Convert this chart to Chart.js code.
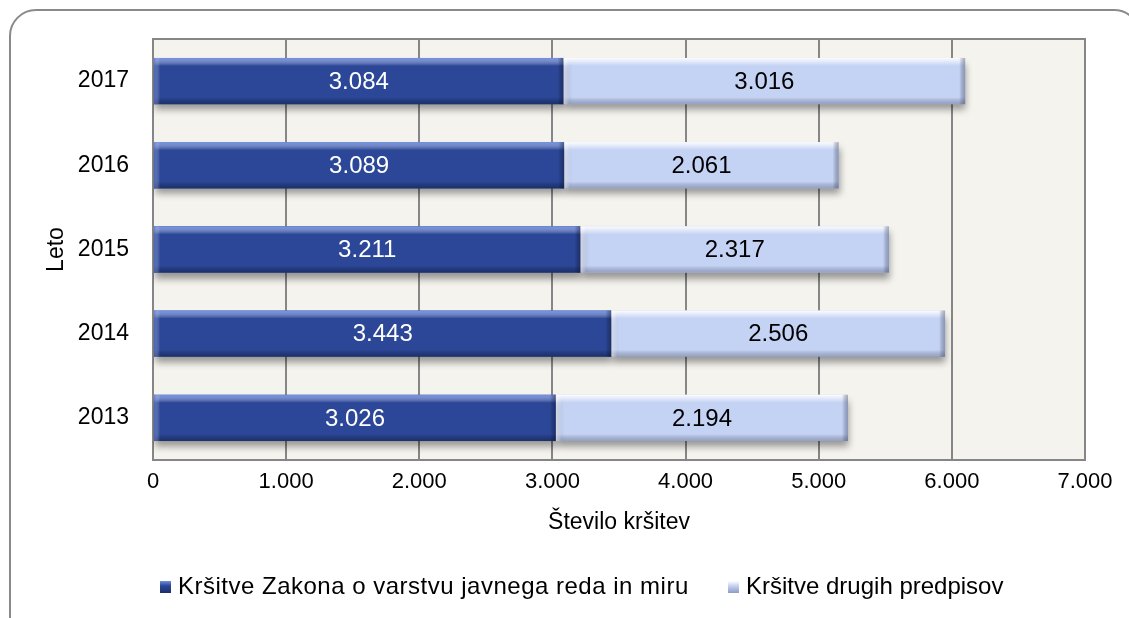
<!DOCTYPE html>
<html><head><meta charset="utf-8">
<script src="https://cdn.jsdelivr.net/npm/chart.js@4/dist/chart.umd.min.js"></script>
<style>html,body{margin:0;padding:0;background:#fff;} canvas{display:block;}</style>
</head><body>
<canvas id="c" width="1129" height="618"></canvas>
<script>
// ---- data ----
const years = ['2017', '2016', '2015', '2014', '2013'];
const zakon = [3084, 3089, 3211, 3443, 3026];
const drugi = [3016, 2061, 2317, 2506, 2194];
const seriesNames = ['Kršitve Zakona o varstvu javnega reda in miru', 'Kršitve drugih predpisov'];
const xMin = 0, xMax = 7000, xStep = 1000;
const xTitle = 'Število kršitev';
const yTitle = 'Leto';

const FONT = '"Liberation Sans", Arial, sans-serif';
const fmt = n => String(n).replace(/\B(?=(\d{3})+(?!\d))/g, '.');

const darkBase = '#2c4797', lightBase = '#c4d2f4';

const framePlugin = {
  id: 'frame',
  beforeDraw(chart) {
    const ctx = chart.ctx, a = chart.chartArea;
    ctx.save();
    ctx.fillStyle = '#fff';
    ctx.fillRect(0, 0, chart.width, chart.height);
    ctx.strokeStyle = '#8a8a8a';
    ctx.lineWidth = 2;
    ctx.beginPath();
    ctx.roundRect(10, 10, 1130, 640, 26);
    ctx.stroke();
    ctx.fillStyle = '#f4f3ee';
    ctx.fillRect(a.left, a.top, a.right - a.left, a.bottom - a.top);
    ctx.restore();
  },
  beforeDatasetsDraw(chart) {
    const ctx = chart.ctx, a = chart.chartArea;
    ctx.save();
    ctx.strokeStyle = '#868686';
    ctx.lineWidth = 2;
    ctx.strokeRect(a.left, a.top, a.right - a.left, a.bottom - a.top);
    ctx.restore();
    ctx.save();
    ctx.shadowColor = 'rgba(0,0,0,0.38)';
    ctx.shadowBlur = 7;
    ctx.shadowOffsetX = 1;
    ctx.shadowOffsetY = 6;
  },
  afterDatasetsDraw(chart) {
    const ctx = chart.ctx;
    ctx.restore();
    ctx.save();
    chart.data.datasets.forEach((ds, di) => {
      const meta = chart.getDatasetMeta(di);
      meta.data.forEach((el, i) => {
        const p = el.getProps(['x', 'y', 'base', 'height'], true);
        const l = Math.min(p.x, p.base), r = Math.max(p.x, p.base);
        const t = p.y - p.height / 2, b = p.y + p.height / 2;
        let g = ctx.createLinearGradient(0, t, 0, t + 8);
        g.addColorStop(0, di === 0 ? 'rgba(120,150,235,0.9)' : 'rgba(255,255,255,0.95)');
        g.addColorStop(1, 'rgba(255,255,255,0)');
        ctx.fillStyle = g;
        ctx.fillRect(l, t, r - l, 8);
        g = ctx.createLinearGradient(0, b - 7, 0, b);
        g.addColorStop(0, 'rgba(0,0,0,0)');
        g.addColorStop(1, di === 0 ? 'rgba(10,20,60,0.45)' : 'rgba(60,70,110,0.35)');
        ctx.fillStyle = g;
        ctx.fillRect(l, b - 7, r - l, 7);
        g = ctx.createLinearGradient(l, 0, l + 6, 0);
        g.addColorStop(0, di === 0 ? 'rgba(90,120,210,0.6)' : 'rgba(255,255,255,0.6)');
        g.addColorStop(1, 'rgba(255,255,255,0)');
        ctx.fillStyle = g;
        ctx.fillRect(l, t, 6, b - t);
        g = ctx.createLinearGradient(r - 6, 0, r, 0);
        g.addColorStop(0, 'rgba(0,0,0,0)');
        g.addColorStop(1, di === 0 ? 'rgba(10,20,60,0.45)' : 'rgba(70,80,120,0.45)');
        ctx.fillStyle = g;
        ctx.fillRect(r - 6, t, 6, b - t);
        ctx.fillStyle = di === 0 ? '#ffffff' : '#000000';
        ctx.font = '24px ' + FONT;
        ctx.textAlign = 'center';
        ctx.textBaseline = 'middle';
        ctx.fillText(fmt(ds.data[i]), (l + r) / 2, p.y + 1);
      });
    });
    ctx.restore();
  },
  afterDraw(chart) {
    const ctx = chart.ctx;
    ctx.save();
    const items = [
      {x: 160, color: darkBase, hi: '#6f8ee0', lo: '#1c2f6a', text: seriesNames[0], ls: '0.5px'},
      {x: 728, color: lightBase, hi: '#ffffff', lo: '#8e9cc4', text: seriesNames[1], ls: '0px'}
    ];
    const cy = 587;
    items.forEach(it => {
      const g = ctx.createLinearGradient(0, cy - 6, 0, cy + 6);
      g.addColorStop(0, it.hi);
      g.addColorStop(0.4, it.color);
      g.addColorStop(1, it.lo);
      ctx.fillStyle = g;
      ctx.fillRect(it.x, cy - 6, 11, 12);
      ctx.fillStyle = '#000';
      ctx.font = '24px ' + FONT;
      ctx.textAlign = 'left';
      ctx.textBaseline = 'middle';
      if ('letterSpacing' in ctx) ctx.letterSpacing = it.ls;
      ctx.fillText(it.text, it.x + 18, cy);
      if ('letterSpacing' in ctx) ctx.letterSpacing = '0px';
    });
    ctx.restore();
  }
};

new Chart(document.getElementById('c'), {
  type: 'bar',
  data: {
    labels: years,
    datasets: [
      {label: seriesNames[0], data: zakon, backgroundColor: darkBase, borderWidth: 0},
      {label: seriesNames[1], data: drugi, backgroundColor: lightBase, borderWidth: 0}
    ]
  },
  options: {
    indexAxis: 'y',
    responsive: false,
    animation: false,
    devicePixelRatio: 1,
    layout: {padding: {top: 39, right: 44, left: 0, bottom: 78}},
    categoryPercentage: 1.0,
    barPercentage: 0.55,
    plugins: {legend: {display: false}, tooltip: {enabled: false}},
    scales: {
      x: {
        stacked: true,
        min: xMin, max: xMax,
        border: {display: false},
        grid: {color: '#868686', lineWidth: 2, drawTicks: false},
        ticks: {stepSize: xStep, color: '#000', font: {family: FONT, size: 22}, padding: 9,
                callback: v => fmt(v), maxRotation: 0},
        title: {display: true, text: xTitle, color: '#000', font: {family: FONT, size: 23}, padding: {top: 0, bottom: 4}},
        afterFit: s => { s.height = 80; }
      },
      y: {
        stacked: true,
        border: {display: false},
        grid: {display: false, drawTicks: false},
        ticks: {color: '#000', font: {family: FONT, size: 23}, padding: 24},
        title: {display: true, text: yTitle, color: '#000', font: {family: FONT, size: 23}, padding: {top: 43, bottom: 0}},
        afterFit: s => { s.width = 153; }
      }
    }
  },
  plugins: [framePlugin]
});
</script>
</body></html>
